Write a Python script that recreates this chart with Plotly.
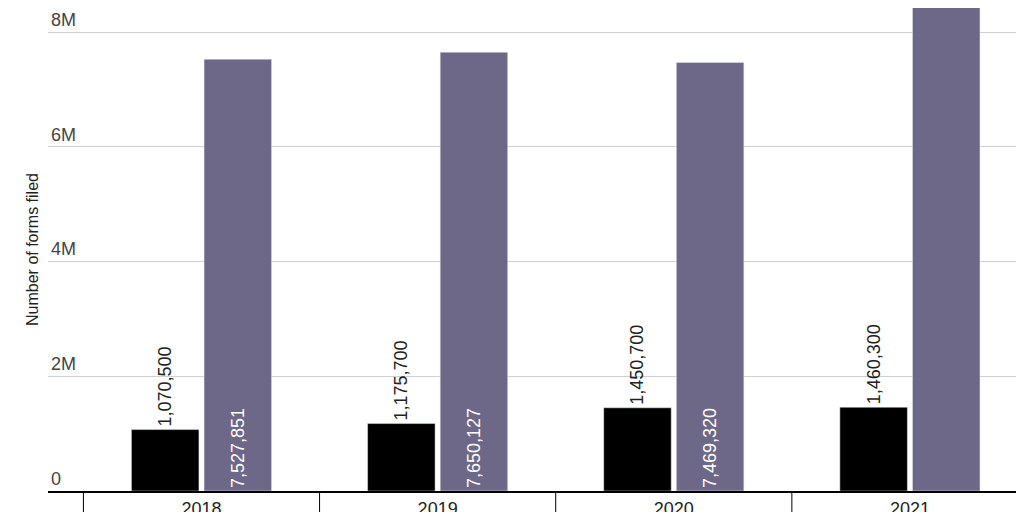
import plotly.graph_objects as go

years = ["2018", "2019", "2020", "2021"]
black_vals = [1070500, 1175700, 1450700, 1460300]
purple_vals = [7527851, 7650127, 7469320, 8839722]
y_ticks = [0, 2000000, 4000000, 6000000, 8000000]
y_tick_text = ["0", "2M", "4M", "6M", "8M"]

fnt = "Liberation Sans"

fig = go.Figure()
fig.add_trace(go.Bar(x=years, y=black_vals, marker_color="#000000",
                     text=[f"{v:,}" for v in black_vals], textposition="outside",
                     textangle=-90, cliponaxis=False, constraintext="none",
                     textfont=dict(color="#222", size=18, family=fnt)))
fig.add_trace(go.Bar(x=years, y=purple_vals, marker_color="#6e6888",
                     text=[f"{v:,}" for v in purple_vals], textposition="inside",
                     insidetextanchor="start", textangle=-90, constraintext="none",
                     textfont=dict(color="#ffffff", size=18, family=fnt)))

# category dividers below the axis
for i in range(len(years) + 1):
    fig.add_shape(type="line", xref="x", yref="paper", x0=i - 0.5, x1=i - 0.5,
                  y0=0, y1=-0.07, line=dict(color="#000", width=1))

fig.update_layout(
    width=1024, height=512, showlegend=False,
    plot_bgcolor="white", paper_bgcolor="white",
    margin=dict(l=40, r=4, t=0, b=29),
    bargap=0.385, bargroupgap=0.07,
    font=dict(family=fnt, size=18, color="#222"),
    xaxis=dict(range=[-0.65, 3.5], showline=True, linecolor="#000", linewidth=2,
               ticks="", tickfont=dict(size=18), showgrid=False,
               automargin=False, ticklabelstandoff=0),
    yaxis=dict(range=[0, 8420000], tickvals=y_ticks, ticktext=y_tick_text,
               ticklabelposition="inside top", gridcolor="#d0d0d0",
               zeroline=False, tickfont=dict(size=18), automargin=False,
               title=dict(text="Number of forms filed", font=dict(size=16), standoff=8)),
)
fig.write_html("out.html")
